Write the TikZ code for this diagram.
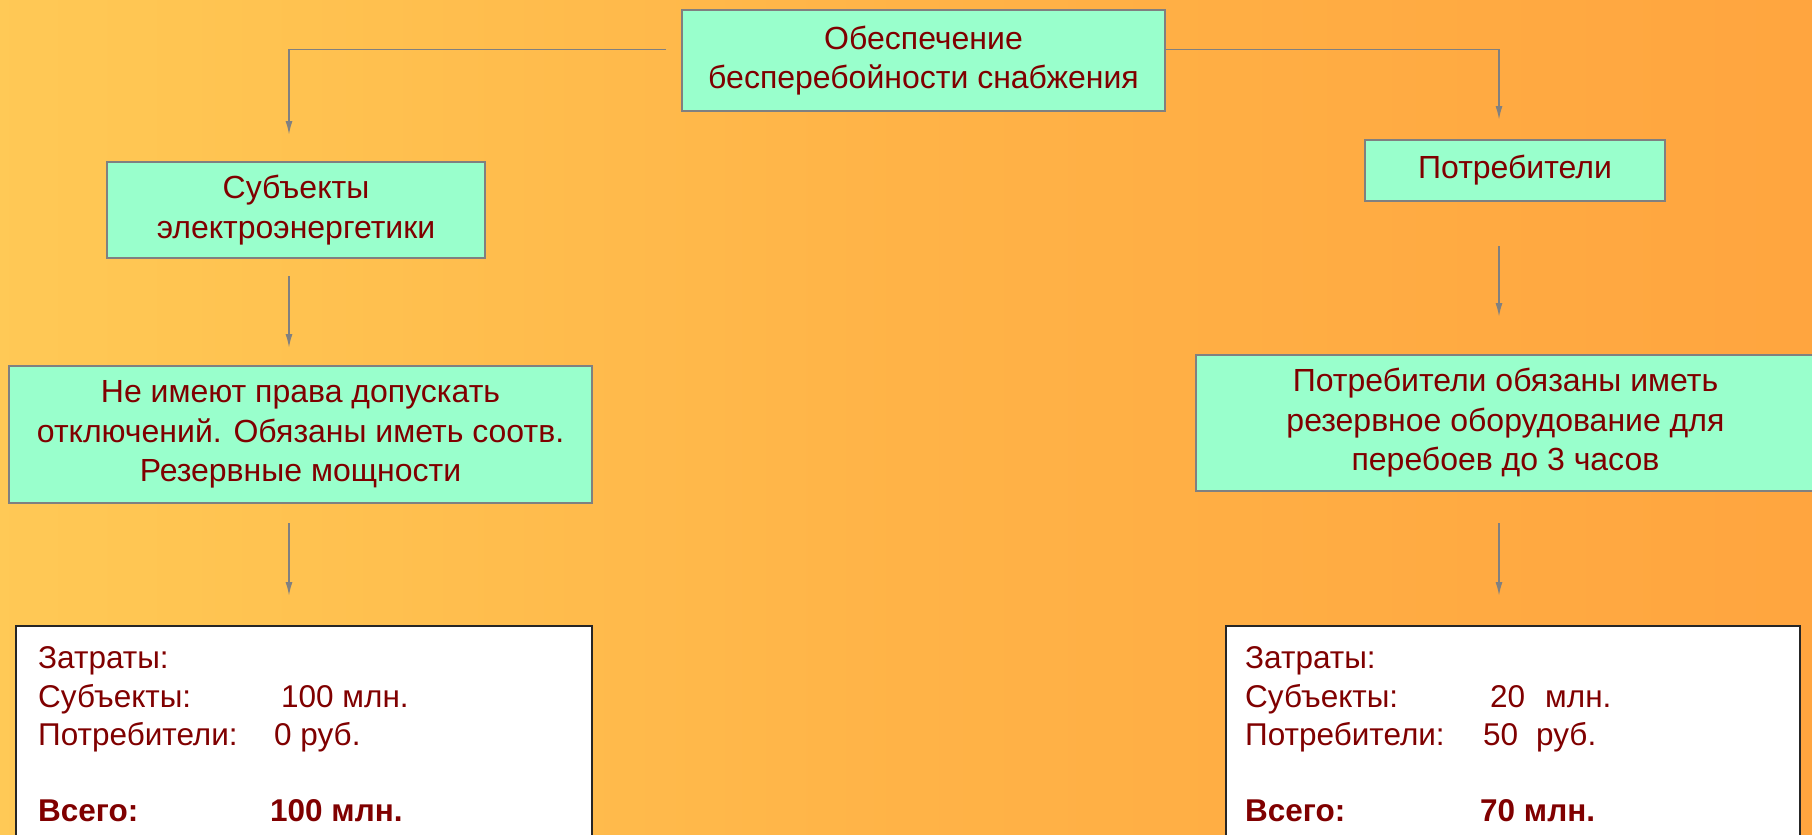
\documentclass[tikz,border=0pt]{standalone}
\usepackage{fontspec}
\setmainfont{Liberation Sans}
\usetikzlibrary{arrows.meta,calc}
\definecolor{boxfill}{HTML}{99FFCC}
\definecolor{txt}{HTML}{800000}
\definecolor{edge}{HTML}{808080}
\definecolor{bgA}{RGB}{255,219,104}
\definecolor{bgB}{RGB}{255,197,82}
\definecolor{bgC}{RGB}{255,179,71}
\definecolor{bgD}{RGB}{255,165,63}
\definecolor{bgE}{RGB}{255,152,50}
\pgfdeclarehorizontalshading{bgshade}{100bp}{color(0bp)=(bgA); color(30bp)=(bgB); color(50bp)=(bgC); color(75bp)=(bgD); color(100bp)=(bgE)}
\tikzset{
  gbox/.style={draw=edge, line width=2pt, fill=boxfill, text=txt, align=center, inner sep=0pt,
    font=\fontsize{32}{39.5}\selectfont},
  wbox/.style={draw=black!85, line width=2pt, fill=white, inner sep=0pt},
  conn/.style={draw=edge, line width=1.8pt, -{Latex[length=14pt,width=7pt]}},
  cost/.style={text=txt, anchor=base west, inner sep=0pt, font=\fontsize{31.5}{36}\selectfont},
  costb/.style={cost, font=\fontsize{31.5}{36}\selectfont\bfseries}
}
\begin{document}
\begin{tikzpicture}[x=1pt,y=-1pt]
\useasboundingbox (0,0) rectangle (1812,835);
\shade[shading=bgshade] (0,0) rectangle (1812,835);
\begin{scope}
\clip (0,0) rectangle (1812,835);
% nodes
\node[gbox, minimum width=483pt, minimum height=101pt] (top) at (923.5,60.5) {Обеспечение\\бесперебойности снабжения};
\node[gbox, minimum width=378pt, minimum height=96pt] (subj) at (296,210) {Субъекты\\электроэнергетики};
\node[gbox, minimum width=583pt, minimum height=137pt] (neim) at (300.5,434.5) {Не имеют права допускать\\отключений. Обязаны иметь соотв.\\Резервные мощности};
\node[gbox, minimum width=300pt, minimum height=61pt] (potr) at (1515,170.5) {Потребители};
\node[gbox, minimum width=619pt, minimum height=136pt] (potrob) at (1505.5,423) {Потребители обязаны иметь\\резервное оборудование для\\перебоев до 3 часов};
\node[wbox, minimum width=576pt, minimum height=240pt] (wl) at (304,746) {};
\node[wbox, minimum width=574pt, minimum height=240pt] (wr) at (1513,746) {};
% column coordinates
\coordinate (lc) at (289,0);
\coordinate (rc) at (1499,0);
% left branch
\coordinate (l0) at ($(top.west)+(-15,-11)$);
\coordinate (l1) at ($(lc |- subj.north)+(0,-26)$);
\coordinate (l2s) at ($(lc |- subj.south)+(0,17)$);
\coordinate (l2e) at ($(lc |- neim.north)+(0,-17)$);
\coordinate (l3s) at ($(lc |- neim.south)+(0,19)$);
\coordinate (l3e) at ($(lc |- wl.north)+(0,-29)$);
\draw[conn] (l0) -| (l1);
\draw[conn] (l2s) -- (l2e);
\draw[conn] (l3s) -- (l3e);
% right branch
\coordinate (r0) at ($(top.east)+(0,-11)$);
\coordinate (r1) at ($(rc |- potr.north)+(0,-19)$);
\coordinate (r2s) at ($(rc |- potr.south)+(0,44)$);
\coordinate (r2e) at ($(rc |- potrob.north)+(0,-37)$);
\coordinate (r3s) at ($(rc |- potrob.south)+(0,31)$);
\coordinate (r3e) at ($(rc |- wr.north)+(0,-29)$);
\draw[conn] (r0) -| (r1);
\draw[conn] (r2s) -- (r2e);
\draw[conn] (r3s) -- (r3e);
% cost texts left
\node[cost] (lz) at (38,668) {Затраты:};
\node[cost] (ls) at (38,707) {Субъекты:};
\node[cost] (lsv) at (281,707) {100 млн.};
\node[cost] (lp) at (38,745) {Потребители:};
\node[cost] (lpv) at (274,745) {0 руб.};
\node[costb] (lt) at (38,821) {Всего:};
\node[costb] (ltv) at (270,821) {100 млн.};
% cost texts right
\node[cost] (rz) at (1245,668) {Затраты:};
\node[cost] (rs) at (1245,707) {Субъекты:};
\node[cost] (rsv) at (1490,707) {20\hspace{20pt}млн.};
\node[cost] (rp) at (1245,745) {Потребители:};
\node[cost] (rpv) at (1483,745) {50\hspace{18pt}руб.};
\node[costb] (rt) at (1245,821) {Всего:};
\node[costb] (rtv) at (1480,821) {70 млн.};
\end{scope}
\end{tikzpicture}
\end{document}
